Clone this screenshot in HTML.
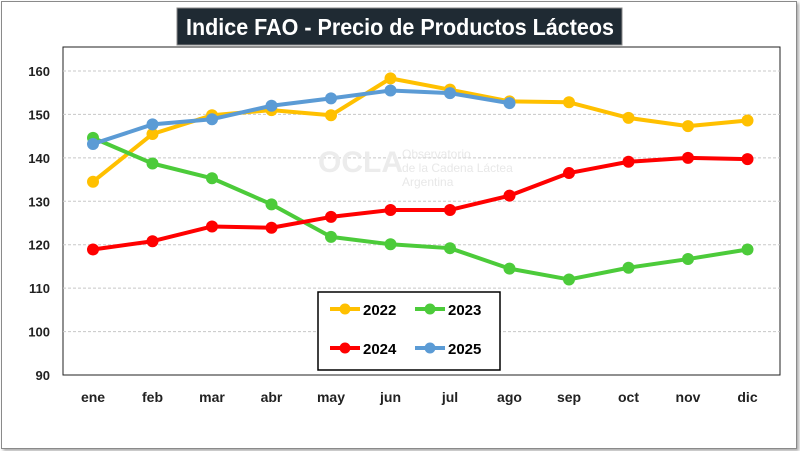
<!DOCTYPE html>
<html><head><meta charset="utf-8"><style>
body{margin:0;width:800px;height:451px;background:#fff;overflow:hidden;font-family:"Liberation Sans",sans-serif}
#frame{position:absolute;left:1px;top:1px;width:794px;height:446px;border:1px solid #8a8a8a;box-shadow:2px 2px 3px #aaa;background:#fff}
</style></head><body>
<div id="frame"></div>
<svg id="c" width="800" height="451" style="position:absolute;left:0;top:0"></svg>
<script>
const months=["ene","feb","mar","abr","may","jun","jul","ago","sep","oct","nov","dic"];
const yTicks=[90,100,110,120,130,140,150,160];
const s2022=[134.5,145.5,149.8,151,149.8,158.3,155.7,153,152.8,149.2,147.3,148.6];
const s2023=[144.6,138.7,135.3,129.3,121.8,120.1,119.2,114.5,112,114.7,116.7,118.9];
const s2024=[118.9,120.8,124.2,123.9,126.4,128,128,131.3,136.5,139.1,140,139.7];
const s2025=[143.2,147.7,148.9,152,153.7,155.5,154.9,152.6];
const seriesNames=["2022","2023","2024","2025"];
const colors=["#FFC000","#4CCB3A","#FF0000","#5B9BD5"];
const NS="http://www.w3.org/2000/svg",svg=document.getElementById('c');
function el(t,a,p){const e=document.createElementNS(NS,t);for(const k in a)e.setAttribute(k,a[k]);(p||svg).appendChild(e);return e;}
const x=i=>93+i*59.5, y=v=>375-(v-90)*(304/70);
const tb=el('rect',{x:177,y:8,width:445,height:37,fill:'#1f2a33',stroke:'#888','stroke-width':1});

const tt=el('text',{x:186,y:35,fill:'#fff','font-size':23,'font-weight':'bold',textLength:428,lengthAdjust:'spacingAndGlyphs'});tt.textContent='Indice FAO - Precio de Productos Lácteos';

const pa=el('rect',{x:63,y:47,width:717,height:328,fill:'#fff',stroke:'#222','stroke-width':1});

yTicks.forEach(v=>{
 if(v>90){const g=el('line',{x1:63,x2:780,y1:y(v),y2:y(v),stroke:'#c8c8c8','stroke-dasharray':'3,2'});
 }
 const t=el('text',{x:50,y:y(v)+5,'text-anchor':'end','font-size':13,'font-weight':'bold',fill:'#222'});t.textContent=v;
 
});
months.forEach((m,i)=>{const t=el('text',{x:x(i),y:402,'text-anchor':'middle','font-size':14,'font-weight':'bold',fill:'#222'});t.textContent=m;
 });
const wm=el('text',{x:318,y:172,'font-size':30,'font-weight':'bold',fill:'#ececec'});wm.textContent='OCLA';

[['Observatorio',158],['de la Cadena Láctea',172],['Argentina',186]].forEach(([s,yy])=>{
 const w=el('text',{x:402,y:yy,'font-size':12,fill:'#e8e8e8'});w.textContent=s;
 });
[s2022,s2023,s2024,s2025].forEach((s,k)=>{
 const p=el('polyline',{points:s.map((v,i)=>x(i)+','+y(v)).join(' '),fill:'none',stroke:colors[k],'stroke-width':4,'stroke-linejoin':'round'});
 
 s.forEach((v,i)=>{const c=el('circle',{cx:x(i),cy:y(v),r:6,fill:colors[k]});
 });
});
const lg=el('rect',{x:318,y:292,width:182,height:78,fill:'#fff',stroke:'#000','stroke-width':1.5});

const lp=[[330,309],[415,309],[330,348],[415,348]];
seriesNames.forEach((n,k)=>{const [lx,ly]=lp[k];
 const l=el('line',{x1:lx,x2:lx+30,y1:ly,y2:ly,stroke:colors[k],'stroke-width':4});
 
 const c=el('circle',{cx:lx+15,cy:ly,r:5.5,fill:colors[k]});
 
 const t=el('text',{x:lx+33,y:ly+6,'font-size':15,'font-weight':'bold',fill:'#000'});t.textContent=n;
 });
</script>
</body></html>
